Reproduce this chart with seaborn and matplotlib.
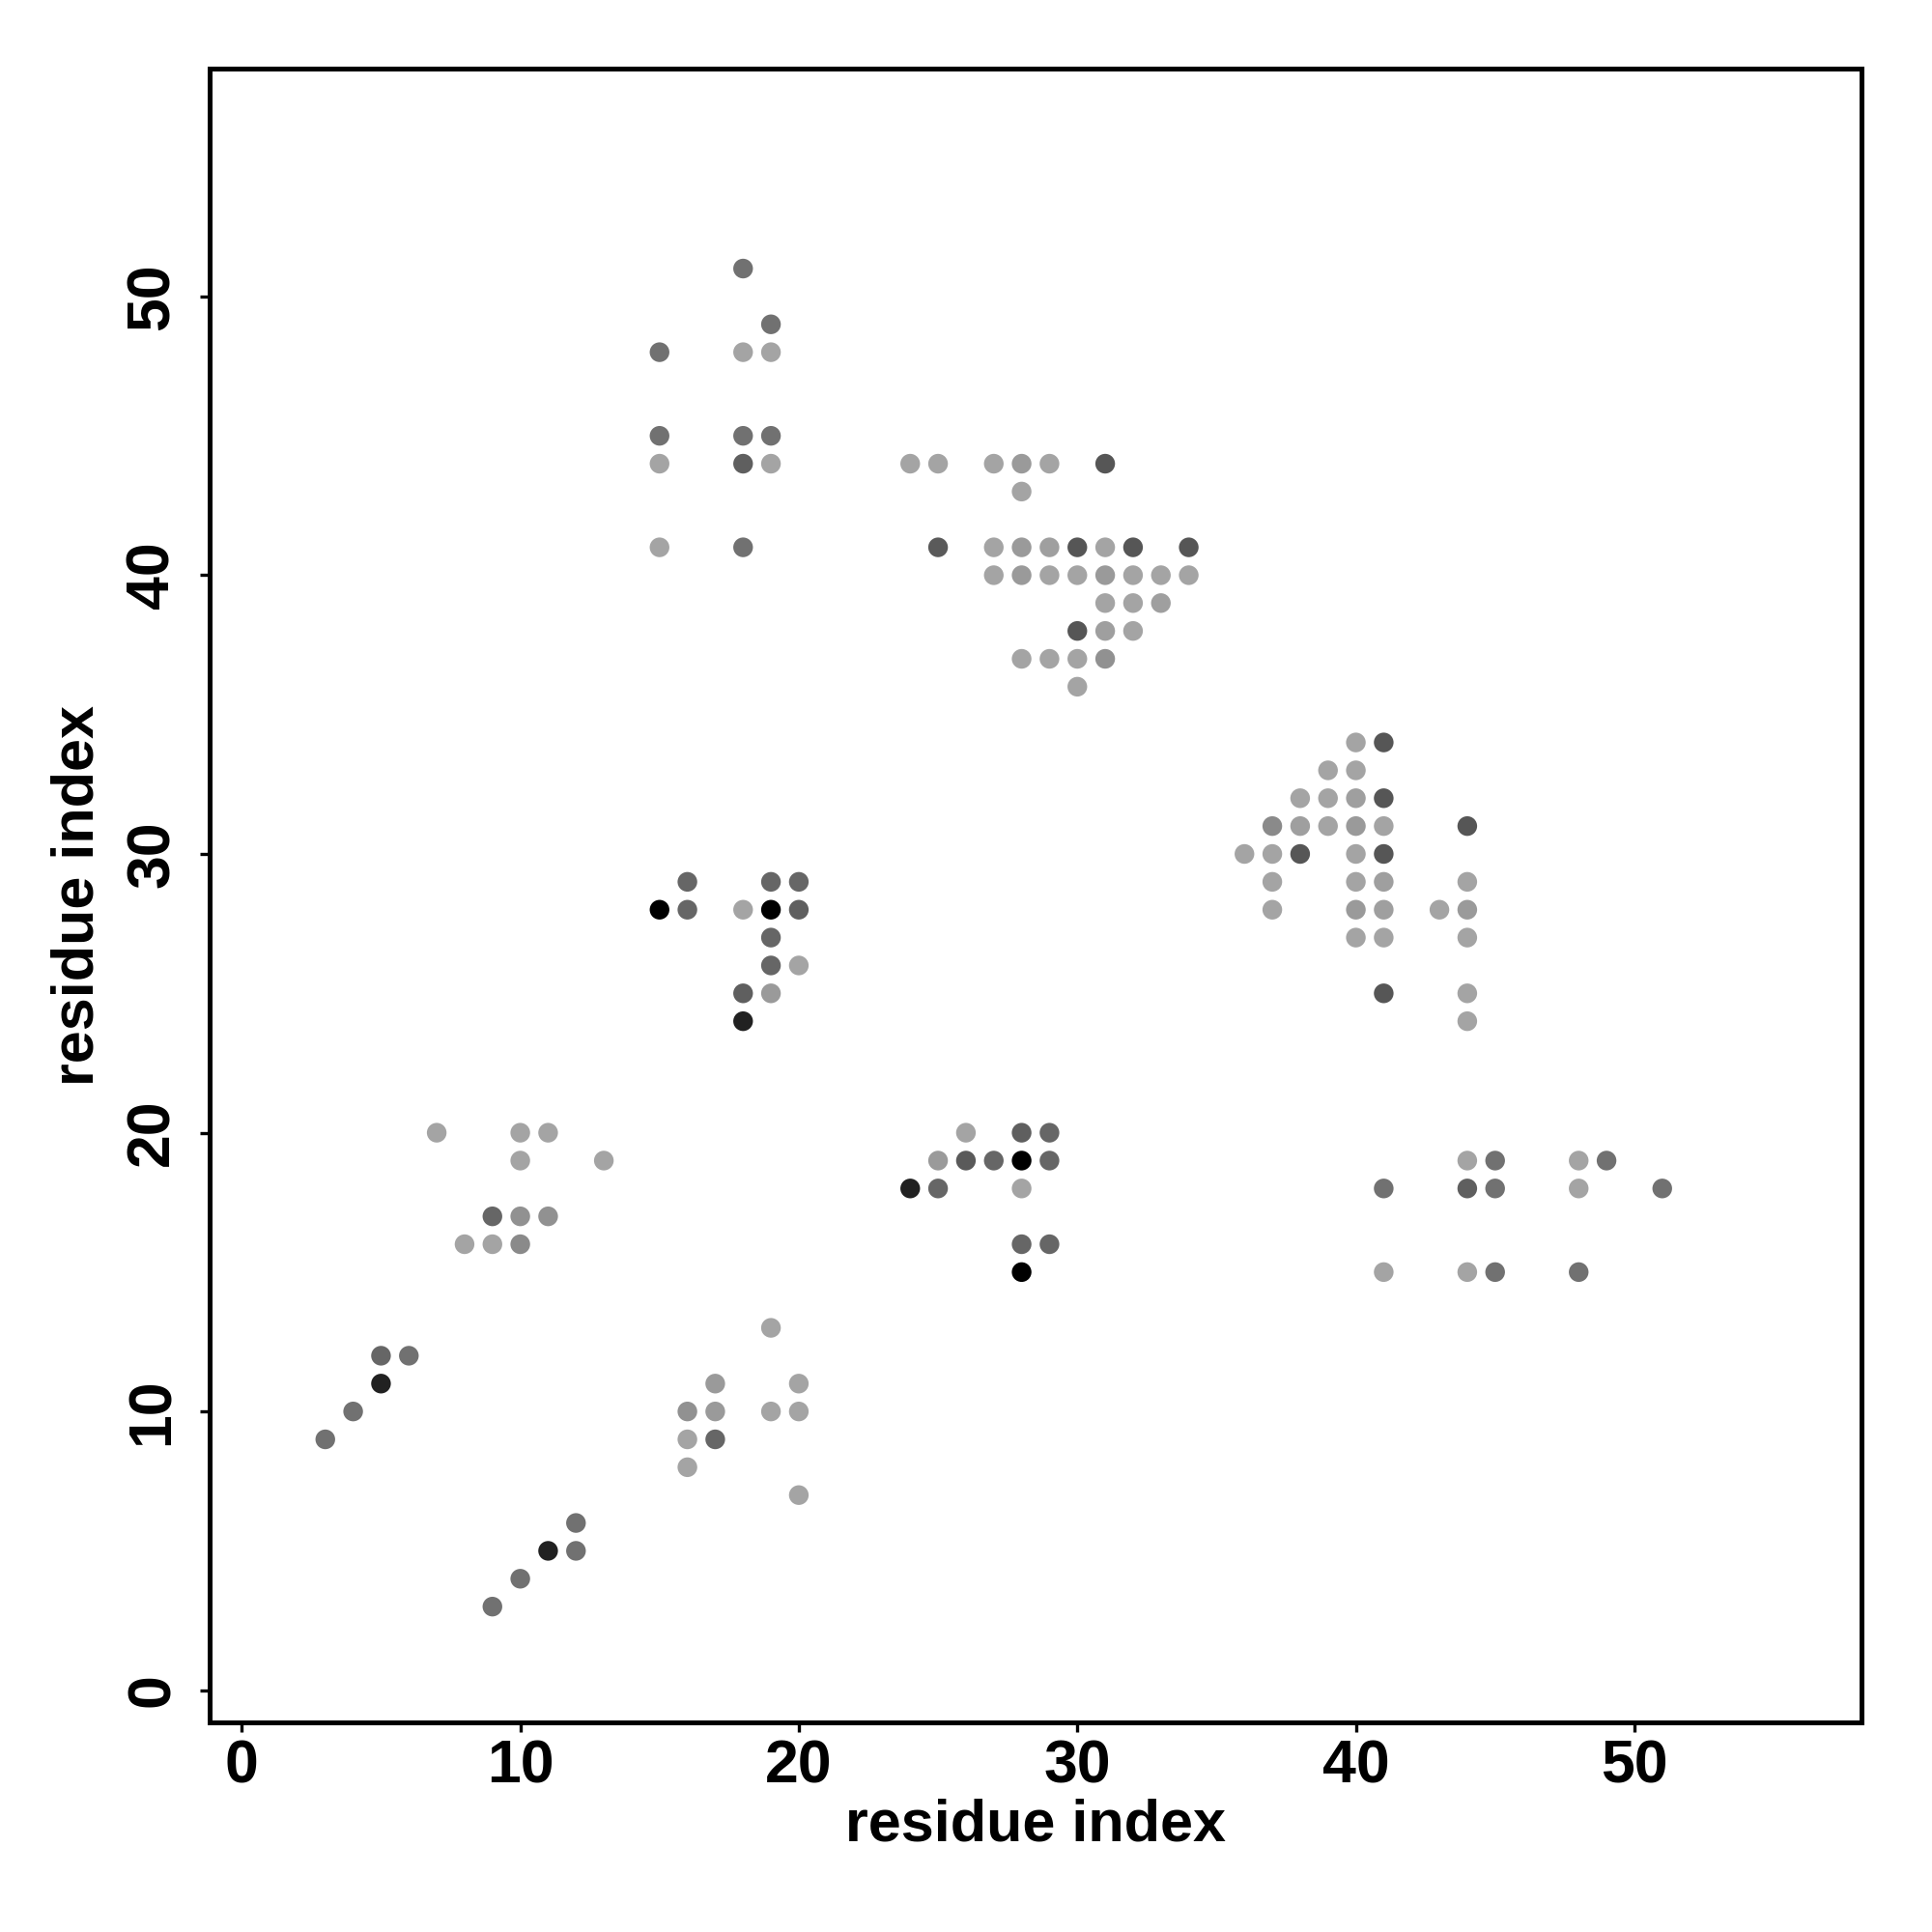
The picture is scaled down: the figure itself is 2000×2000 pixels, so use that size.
import pandas as pd
import matplotlib
matplotlib.use("Agg")
import matplotlib.pyplot as plt
import seaborn as sns
from matplotlib.colors import LinearSegmentedColormap

# contact map: residue i, residue j, contact strength (0 = weak/light, 1 = strong/black)
res_i = [
    18, 19, 15, 18, 19, 15, 18, 19, 15, 18, 19, 15, 18,
    24, 25, 27, 28, 29, 31, 28,
    25, 27, 28, 29, 30, 31, 32, 34,
    27, 28, 29, 30, 31, 32, 33, 34,
    31, 32, 33, 30, 31, 32, 28, 29, 30, 31, 30,
    40, 41, 39, 40, 38, 39, 40, 41,
    37, 38, 39, 40, 41, 44,
    36, 37, 38, 40, 41,
    37, 40, 41, 44,
    37, 40, 41, 43, 44,
    40, 41, 44, 41, 44, 44,
    16, 19, 20, 15, 16, 18, 19, 20, 19, 19, 20, 18, 19, 18,
    26, 28, 29, 25, 26, 27, 28, 29, 24, 25, 28, 28, 29, 28,
    44, 45, 48, 49, 41, 44, 45, 48, 51, 41, 44, 45, 48,
    7, 10, 11, 10, 13, 9, 10, 11, 8, 9, 10,
    5, 6, 5, 4, 3, 12, 11, 12, 10, 9,
    19, 17, 20, 16, 17, 19, 20, 16, 17, 16, 20,
]
res_j = [
    51, 49, 48, 48, 48, 45, 45, 45, 44, 44, 44, 41, 41,
    44, 44, 44, 44, 44, 44, 43,
    41, 41, 41, 41, 41, 41, 41, 41,
    40, 40, 40, 40, 40, 40, 40, 40,
    39, 39, 39, 38, 38, 38, 37, 37, 37, 37, 36,
    34, 34, 33, 33, 32, 32, 32, 32,
    31, 31, 31, 31, 31, 31,
    30, 30, 30, 30, 30,
    29, 29, 29, 29,
    28, 28, 28, 28, 28,
    27, 27, 27, 25, 25, 24,
    29, 29, 29, 28, 28, 28, 28, 28, 27, 26, 26, 25, 25, 24,
    20, 20, 20, 19, 19, 19, 19, 19, 18, 18, 18, 16, 16, 15,
    19, 19, 19, 19, 18, 18, 18, 18, 18, 15, 15, 15, 15,
    20, 20, 20, 19, 19, 17, 17, 17, 16, 16, 16,
    12, 12, 11, 10, 9, 6, 5, 5, 4, 3,
    13, 11, 11, 10, 10, 10, 10, 9, 9, 8, 7,
]
strength = [
    0.31, 0.31, 0.31, 0.0, 0.0, 0.31, 0.31, 0.31, 0.0, 0.42, 0.0, 0.0, 0.31,
    0.0, 0.0, 0.0, 0.06, 0.0, 0.48, 0.0,
    0.45, 0.0, 0.06, 0.03, 0.48, 0.0, 0.48, 0.48,
    0.0, 0.06, 0.0, 0.0, 0.06, 0.0, 0.0, 0.0,
    0.0, 0.0, 0.03, 0.48, 0.03, 0.0, 0.0, 0.0, 0.0, 0.12, 0.0,
    0.0, 0.48, 0.0, 0.0, 0.0, 0.0, 0.03, 0.48,
    0.16, 0.03, 0.0, 0.06, 0.0, 0.48,
    0.0, 0.0, 0.48, 0.0, 0.48,
    0.0, 0.0, 0.03, 0.0,
    0.0, 0.06, 0.03, 0.0, 0.06,
    0.0, 0.0, 0.0, 0.48, 0.0, 0.0,
    0.38, 0.38, 0.38, 1.0, 0.38, 0.0, 1.0, 0.42, 0.38, 0.38, 0.0, 0.42, 0.06, 0.8,
    0.0, 0.42, 0.38, 0.06, 0.45, 0.38, 1.0, 0.38, 0.8, 0.38, 0.0, 0.38, 0.38, 1.0,
    0.0, 0.31, 0.0, 0.31, 0.31, 0.42, 0.31, 0.0, 0.31, 0.0, 0.0, 0.31, 0.31,
    0.0, 0.0, 0.0, 0.0, 0.0, 0.38, 0.12, 0.12, 0.0, 0.0, 0.16,
    0.38, 0.31, 0.8, 0.31, 0.31, 0.31, 0.8, 0.31, 0.31, 0.31,
    0.0, 0.06, 0.0, 0.12, 0.06, 0.0, 0.0, 0.0, 0.38, 0.0, 0.0,
]

df = pd.DataFrame({"i": res_i, "j": res_j, "strength": strength})

sns.set_theme(style="white")
plt.rcParams["font.family"] = ["Liberation Sans", "DejaVu Sans"]
plt.rcParams["font.weight"] = "bold"

fig = plt.figure(figsize=(20, 20), dpi=100)
ax = fig.add_axes([0.1084, 0.1084, 0.8552, 0.8559])

greys = LinearSegmentedColormap.from_list("contact", ["#a4a4a4", "#000000"])
sns.scatterplot(
    data=df, x="i", y="j", hue="strength",
    palette=greys, hue_norm=(0, 1),
    s=215, linewidth=0, legend=False, ax=ax
)

ax.set_xlim(-1.16, 58.16)
ax.set_ylim(-1.16, 58.16)
ax.set_xticks([0, 10, 20, 30, 40, 50])
ax.set_yticks([0, 10, 20, 30, 40, 50])
for sp in ax.spines.values():
    sp.set_visible(True)
    sp.set_color("black")
    sp.set_linewidth(3.6)

ax.tick_params(axis="both", direction="out", length=7, width=2.4,
               colors="black", labelsize=45, bottom=True, left=True)
ax.tick_params(axis="x", pad=5)
ax.tick_params(axis="y", pad=14)
for lab in ax.get_yticklabels():
    lab.set_rotation(90)
    lab.set_va("center")
for lab in ax.get_xticklabels() + ax.get_yticklabels():
    lab.set_fontweight("bold")

ax.set_xlabel("residue index", fontsize=44, fontweight="bold", color="black", labelpad=2)
ax.set_ylabel("residue index", fontsize=44, fontweight="bold", color="black", labelpad=14)

plt.savefig("out.png", dpi=100)
